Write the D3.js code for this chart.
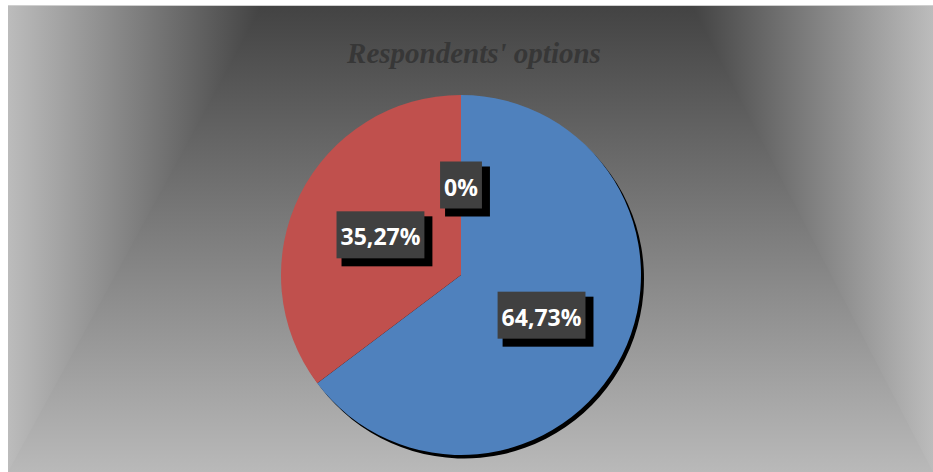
<!DOCTYPE html>
<html>
<head>
<meta charset="utf-8">
<script src="https://cdn.jsdelivr.net/npm/d3@7"></script>
<style>
  body { margin: 0; background: #ffffff; }
</style>
</head>
<body>
<div id="chart"></div>
<script>
// Chart data
const categories = ["Option 1", "Option 2", "Option 3"];
const values = [64.73, 35.27, 0];
const colors = ["#4f81bd", "#c0504d", "#9bbb59"];
const title = "Respondents' options";

const width = 933, height = 472;
const frame = {x: 8, y: 6, w: 925, h: 466};
const center = {x: 461, y: 275};
const radius = 180;

// comma decimal, like the source
const locale = d3.formatLocale({decimal: ",", thousands: ".", grouping: [3], currency: ["", ""]});
const fmt2 = locale.format(".2f");
const fmtLabel = v => (v === 0 ? "0" : fmt2(v)) + "%";

const svg = d3.select("#chart").append("svg")
  .attr("width", width)
  .attr("height", height)
  .attr("viewBox", [0, 0, width, height]);

const defs = svg.append("defs");

// vertical gradient for the middle of the background
const gv = defs.append("linearGradient").attr("id", "bgV")
  .attr("gradientUnits", "userSpaceOnUse")
  .attr("x1", 0).attr("y1", frame.y).attr("x2", 0).attr("y2", frame.y + frame.h);
gv.append("stop").attr("offset", 0).attr("stop-color", "#434343");
gv.append("stop").attr("offset", 1).attr("stop-color", "#b9b9b9");

// side gradients
const gl = defs.append("linearGradient").attr("id", "bgL")
  .attr("gradientUnits", "userSpaceOnUse")
  .attr("x1", frame.x).attr("y1", 0).attr("x2", 262).attr("y2", 0);
gl.append("stop").attr("offset", 0).attr("stop-color", "#bcbcbc");
gl.append("stop").attr("offset", 1).attr("stop-color", "#434343");

const gr = defs.append("linearGradient").attr("id", "bgR")
  .attr("gradientUnits", "userSpaceOnUse")
  .attr("x1", 692).attr("y1", 0).attr("x2", frame.x + frame.w).attr("y2", 0);
gr.append("stop").attr("offset", 0).attr("stop-color", "#434343");
gr.append("stop").attr("offset", 1).attr("stop-color", "#bcbcbc");

// background
svg.append("line")
  .attr("x1", frame.x).attr("x2", width)
  .attr("y1", frame.y - 0.5).attr("y2", frame.y - 0.5)
  .attr("stroke", "#cfcfcf");

svg.append("rect")
  .attr("x", frame.x).attr("y", frame.y)
  .attr("width", frame.w).attr("height", frame.h)
  .attr("fill", "url(#bgV)");

svg.append("polygon")
  .attr("points", [[frame.x, frame.y], [262, frame.y], [frame.x, frame.y + frame.h]].join(" "))
  .attr("fill", "url(#bgL)");

svg.append("polygon")
  .attr("points", [[692, frame.y], [frame.x + frame.w, frame.y], [frame.x + frame.w, frame.y + frame.h]].join(" "))
  .attr("fill", "url(#bgR)");

// title
svg.append("text")
  .attr("x", 474)
  .attr("y", 63)
  .attr("text-anchor", "middle")
  .attr("font-family", "'Liberation Serif', 'DejaVu Serif', serif")
  .attr("font-weight", "bold")
  .attr("font-style", "italic")
  .attr("font-size", 29)
  .attr("fill", "#373737")
  .text(title);

// pie
const pie = d3.pie().sort(null).value(d => d.value);
const data = categories.map((c, i) => ({name: c, value: values[i], color: colors[i]}));
const arcs = pie(data);
const arc = d3.arc().innerRadius(0).outerRadius(radius);
const labelArc = d3.arc().innerRadius(0).outerRadius(radius);

const g = svg.append("g").attr("transform", `translate(${center.x},${center.y})`);

// shadow under the pie
g.append("g")
  .attr("transform", "translate(3,3.5)")
  .selectAll("path")
  .data(arcs.filter(d => d.value > 0))
  .join("path")
  .attr("d", arc)
  .attr("fill", "#000");

g.append("g")
  .selectAll("path")
  .data(arcs.filter(d => d.value > 0))
  .join("path")
  .attr("d", arc)
  .attr("fill", d => d.data.color);

// labels with dark boxes and shadows
const boxH = 47;
const labels = g.append("g")
  .selectAll("g")
  .data(arcs)
  .join("g")
  .attr("transform", d => {
    const [lx, ly] = labelArc.centroid(d);
    return `translate(${lx},${ly})`;
  });

labels.each(function(d) {
  const sel = d3.select(this);
  const shadow = sel.append("rect").attr("fill", "#000");
  const box = sel.append("rect").attr("fill", "#404040");
  const t = sel.append("text")
    .attr("text-anchor", "middle")
    .attr("y", 10.5)
    .attr("font-family", "'Open Sans', 'Noto Sans', sans-serif")
    .attr("font-weight", "bold")
    .attr("font-size", 23)
    .attr("fill", "#ffffff")
    .text(fmtLabel(d.data.value));
  const tw = t.node().getComputedTextLength();
  const w = tw + 8;
  box.attr("x", -w / 2).attr("y", -boxH / 2).attr("width", w).attr("height", boxH);
  shadow.attr("x", -w / 2 + 5).attr("y", -boxH / 2 + 5).attr("width", w + 3).attr("height", boxH + 3);
});
</script>
</body>
</html>
